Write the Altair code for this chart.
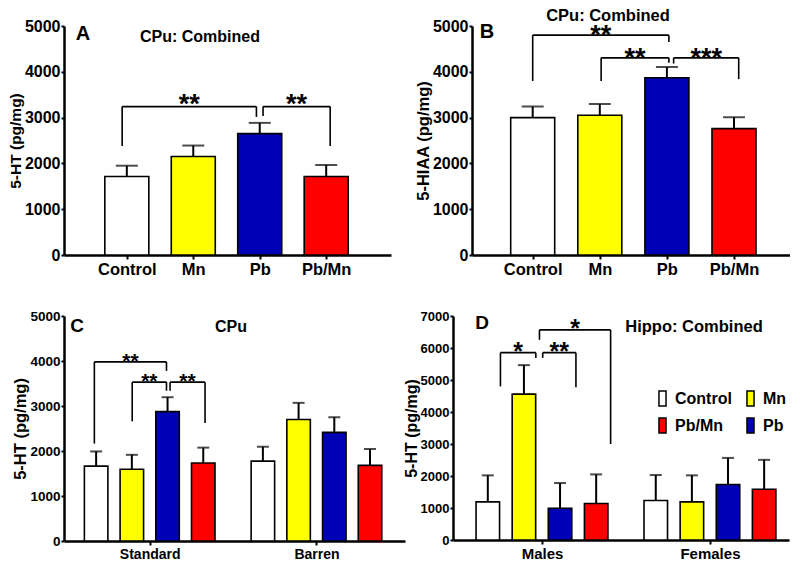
import json
import altair as alt
import pandas as pd

FONT = "Liberation Sans"

# ---------------- data ----------------
treatments = ["Control", "Mn", "Pb", "Pb/Mn"]
legend_order = ["Control", "Pb/Mn", "Mn", "Pb"]
legend_colors = ["#FFFFFF", "#FF0000", "#FFFF00", "#0000B4"]

# Panel A: 5-HT, CPu combined (mean and mean+SEM)
a_means = [1715, 2150, 2650, 1715]
a_tops = [1950, 2390, 2885, 1965]
# Panel B: 5-HIAA, CPu combined
b_means = [3000, 3050, 3870, 2760]
b_tops = [3240, 3295, 4105, 3005]
# Panel C: 5-HT, CPu by housing
c_groups = ["Standard", "Barren"]
c_means = [[1665, 1595, 2875, 1735], [1775, 2700, 2415, 1680]]
c_tops = [[1990, 1915, 3195, 2075], [2095, 3070, 2750, 2045]]
# Panel D: 5-HT, Hippocampus by sex
d_groups = ["Males", "Females"]
d_means = [[1190, 4560, 990, 1140], [1235, 1190, 1735, 1585]]
d_tops = [[2020, 5465, 1780, 2050], [2030, 2020, 2565, 2505]]

# significance brackets: (left, right, top, left-leg bottom, right-leg bottom, label)
a_brackets = [(-0.07, 1.95, 3240, 2380, 3015, "**"),
              (2.05, 3.06, 3240, 3035, 2380, "**")]
b_brackets = [(0.0, 2.03, 4800, 3800, 4650, "**"),
              (1.02, 2.03, 4305, 3800, 4200, "**"),
              (2.10, 3.07, 4305, 4180, 3840, "***")]
c_brackets = [(-0.05, 1.97, 3980, 2165, 3780, "**"),
              (1.01, 1.97, 3530, 2660, 3340, "**"),
              (2.07, 3.05, 3530, 3340, 2625, "**")]
d_brackets = [(0.35, 1.33, 5855, 4800, 5690, "*"),
              (1.52, 2.44, 5855, 5690, 4770, "**"),
              (1.43, 3.40, 6565, 6255, 3000, "*")]

GROUP_STEP_C = 4.67
GROUP_STEP_D = 4.65


def simple_df(means, tops):
    return pd.DataFrame({"treat": treatments, "pos": list(range(len(treatments))),
                         "mean": means, "top": tops})


def grouped_df(groups, means, tops, gstep):
    rows = []
    for g, _ in enumerate(groups):
        for t, name in enumerate(treatments):
            rows.append({"treat": name, "pos": g * gstep + t,
                         "mean": means[g][t], "top": tops[g][t]})
    return pd.DataFrame(rows)


def bracket_dfs(brackets):
    hor = pd.DataFrame([{"xl": b[0], "xr": b[1], "yt": b[2], "mid": (b[0] + b[1]) / 2,
                         "label": b[5]} for b in brackets])
    legs = []
    for b in brackets:
        legs.append({"x": b[0], "y1": b[3], "y2": b[2]})
        legs.append({"x": b[1], "y1": b[4], "y2": b[2]})
    return hor, pd.DataFrame(legs)


def text_mark(txt, x, y, size):
    return alt.Chart(pd.DataFrame({"t": [txt]})).mark_text(
        font=FONT, fontSize=size, fontWeight="bold", color="black",
        align="center", baseline="middle").encode(
        text="t:N", x=alt.value(x), y=alt.value(y))


def make_panel(df, brackets, xdom, xvals, label_expr, w, h, ymax, ytitle, st,
               annotations, legend=None):
    xs = alt.Scale(domain=xdom, nice=False, zero=False)
    ys = alt.Scale(domain=[0, ymax], nice=False, zero=True)
    xaxis = alt.Axis(values=xvals, labelExpr=label_expr, title=None, grid=False,
                     domainWidth=2.5, domainColor="black", tickSize=4, tickWidth=2,
                     tickColor="black", labelFont=FONT, labelFontSize=st["xl"],
                     labelFontWeight="bold", labelColor="black", labelPadding=2,
                     labelAngle=0)
    yaxis = alt.Axis(values=list(range(0, ymax + 1, 1000)), format="d", title=ytitle,
                     grid=False, domainWidth=2.5, domainColor="black", tickSize=3,
                     tickWidth=2, tickColor="black", labelFont=FONT,
                     labelFontSize=st["yl"], labelFontWeight="bold", labelColor="black",
                     labelPadding=1, titleFont=FONT, titleFontSize=st["yt"],
                     titleFontWeight="bold", titleColor="black", titlePadding=1)

    def X(f):
        return alt.X(f, scale=xs, axis=xaxis)

    def Y(f):
        return alt.Y(f, scale=ys, axis=yaxis)

    base = alt.Chart(df)
    err = base.mark_rule(color="black", strokeWidth=2).encode(
        x=X("pos:Q"), y=Y("mean:Q"), y2="top:Q")
    cap = base.mark_tick(orient="horizontal", size=st["cap"], thickness=2,
                         color="black").encode(x=X("pos:Q"), y=Y("top:Q"))
    bars = base.mark_bar(width=st["bw"], stroke="black", strokeWidth=1.6).encode(
        x=X("pos:Q"), y=Y("mean:Q"),
        fill=alt.Fill("treat:N", scale=alt.Scale(domain=legend_order, range=legend_colors),
                      legend=legend))
    hor, legs = bracket_dfs(brackets)
    hrule = alt.Chart(hor).mark_rule(color="black", strokeWidth=1.6).encode(
        x=X("xl:Q"), x2="xr:Q", y=Y("yt:Q"))
    vrule = alt.Chart(legs).mark_rule(color="black", strokeWidth=1.6).encode(
        x=X("x:Q"), y=Y("y1:Q"), y2="y2:Q")
    stars = alt.Chart(hor).mark_text(font=FONT, fontSize=st["star"], fontWeight="bold",
                                     color="black", align="center", baseline="alphabetic",
                                     dy=st["sdy"]).encode(
        x=X("mid:Q"), y=Y("yt:Q"), text="label:N")
    layers = [err, cap, bars, hrule, vrule, stars] + [text_mark(*a) for a in annotations]
    return alt.layer(*layers).properties(width=w, height=h)


lab4 = json.dumps(treatments) + "[datum.value]"

A = make_panel(simple_df(a_means, a_tops), a_brackets, [-0.87, 3.9], [0, 1, 2, 3], lab4,
               327, 229, 5000, "5-HT (pg/mg)",
               {"xl": 16.5, "yl": 16, "yt": 15.5, "cap": 22, "bw": 44, "star": 27, "sdy": 6.5},
               [("A", 19, 8, 20), ("CPu: Combined", 136, 11, 16)])

B = make_panel(simple_df(b_means, b_tops), b_brackets, [-0.83, 3.76], [0, 1, 2, 3], lab4,
               318, 229, 5000, "5-HIAA (pg/mg)",
               {"xl": 16.5, "yl": 16, "yt": 16.5, "cap": 22, "bw": 44, "star": 27, "sdy": 9},
               [("B", 15, 6, 20), ("CPu: Combined", 136, -10, 16.5)])

c_centers = [g * GROUP_STEP_C + 1.5 for g in range(len(c_groups))]
C = make_panel(grouped_df(c_groups, c_means, c_tops, GROUP_STEP_C), c_brackets,
               [-0.76, 8.51], c_centers,
               json.dumps(c_groups) + "[datum.value < 4 ? 0 : 1]",
               341, 225, 5000, "5-HT (pg/mg)",
               {"xl": 14, "yl": 13.5, "yt": 16.5, "cap": 12, "bw": 23.5, "star": 21, "sdy": 6},
               [("C", 13, 10, 19), ("CPu", 167, 11, 16)])

d_centers = [g * GROUP_STEP_D + 1.5 for g in range(len(d_groups))]
D = make_panel(grouped_df(d_groups, d_means, d_tops, GROUP_STEP_D), d_brackets,
               [-0.825, 8.2], d_centers,
               json.dumps(d_groups) + "[datum.value < 4 ? 0 : 1]",
               336, 224, 7000, "5-HT (pg/mg)",
               {"xl": 15, "yl": 13, "yt": 16, "cap": 12, "bw": 23.5, "star": 25, "sdy": 7.5},
               [("D", 29, 7, 19), ("Hippo: Combined", 241, 11, 16.5)],
               legend=alt.Legend(orient="none", legendX=201, legendY=74, columns=2,
                                 title=None, symbolType="M-0.47,-1V1H0.47V-1Z",
                                 symbolSize=225, symbolStrokeColor="black",
                                 symbolStrokeWidth=1.5, labelFont=FONT, labelFontSize=16,
                                 labelFontWeight="bold", labelColor="black",
                                 columnPadding=10, rowPadding=6, labelOffset=4,
                                 padding=0))

res = dict(x="independent", y="independent", fill="independent")
top = alt.hconcat(A, B, spacing=81, bounds="flush").resolve_scale(**res)
bottom = alt.hconcat(C, D, spacing=48, bounds="flush").resolve_scale(**res)
chart = alt.vconcat(top, bottom, spacing=31).resolve_scale(**res)
chart = chart.properties(padding={"left": 0, "top": 0, "right": 0, "bottom": 0}) \
    .configure_view(stroke=None)

chart.save("out.html", embed_options={"renderer": "svg", "actions": False})
